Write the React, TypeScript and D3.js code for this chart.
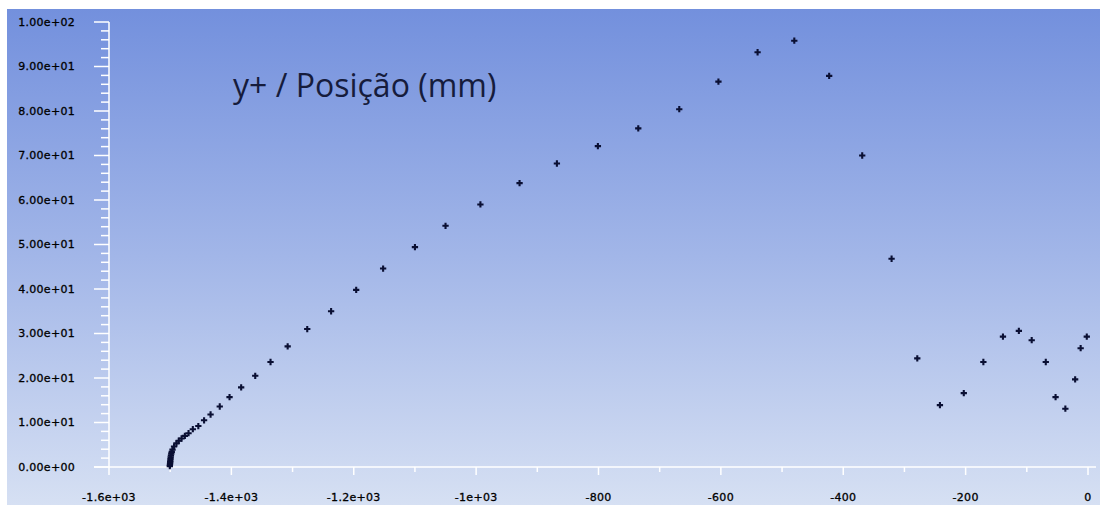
import * as d3 from "d3";
import { useMemo } from "react";

// position (mm) and y+, left to right
const positionMm = [
  -1500.6, -1500.4, -1500.2, -1500.0, -1499.8, -1499.5, -1499.2, -1498.8, -1498.2, -1497.4,
  -1496.2, -1493.7, -1489.8, -1486, -1481.4, -1476, -1470, -1463, -1454, -1444.6,
  -1434, -1419, -1403, -1384, -1361, -1336, -1308, -1276, -1237, -1196,
  -1152, -1100, -1050, -993, -929, -868, -801, -735, -668, -604,
  -540, -480, -423, -369, -321, -279, -242, -203, -171, -139,
  -113, -92, -69, -53, -37, -21, -12, -2,
];
const yPlus = [
  0.2, 0.5, 0.8, 1.1, 1.4, 1.8, 2.2, 2.6, 3.0, 3.4,
  3.9, 4.6, 5.3, 5.9, 6.4, 7.0, 7.6, 8.5, 9.2, 10.5,
  11.8, 13.6, 15.7, 17.9, 20.5, 23.6, 27.1, 31.0, 35.0, 39.8,
  44.6, 49.4, 54.2, 59.0, 63.8, 68.2, 72.1, 76.1, 80.4, 86.6,
  93.2, 95.8, 87.9, 70.0, 46.8, 24.4, 13.9, 16.6, 23.6, 29.3,
  30.6, 28.5, 23.6, 15.7, 13.1, 19.7, 26.7, 29.3,
];

const xTickValues = [-1600, -1400, -1200, -1000, -800, -600, -400, -200, 0];
const xTickLabels = ["-1.6e+03", "-1.4e+03", "-1.2e+03", "-1e+03", "-800", "-600", "-400", "-200", "0"];
const yTickValues = [0, 10, 20, 30, 40, 50, 60, 70, 80, 90, 100];
const yTickLabels = [
  "0.00e+00", "1.00e+01", "2.00e+01", "3.00e+01", "4.00e+01", "5.00e+01",
  "6.00e+01", "7.00e+01", "8.00e+01", "9.00e+01", "1.00e+02",
];

const title = "y+ / Posição (mm)";

const width = 1100;
const height = 507;

export default function App() {
  const x = d3.scaleLinear().domain([-1600, 0]).range([109, 1088]);
  const y = d3.scaleLinear().domain([0, 100]).range([467, 22]);

  const points = useMemo(
    () => positionMm.map((p, i) => ({ p, v: yPlus[i] })),
    [],
  );

  const marker = d3.symbol(d3.symbolCross, 22)() ?? "";
  const xMinor = d3.range(-1500, 0, 200);
  const yMinor = d3.range(0, 100, 2).filter((v) => v % 10 !== 0);

  const labelStyle = {
    fontFamily: "DejaVu Sans, sans-serif",
    fontSize: 11,
    letterSpacing: 0.3,
    fill: "#000",
    stroke: "#000",
    strokeWidth: 0.3,
  };

  return (
    <svg
      width={width}
      height={height}
      style={{ position: "absolute", left: 0, top: 0, display: "block" }}
    >
      <defs>
        <linearGradient id="bg" x1="0" y1="0" x2="0" y2="1">
          <stop offset="0%" stopColor="#7390dd" />
          <stop offset="50%" stopColor="#a2b6e8" />
          <stop offset="100%" stopColor="#d6e0f3" />
        </linearGradient>
      </defs>
      <rect x={0} y={0} width={width} height={height} fill="#fff" />
      <rect x={7} y={9} width={width - 7} height={height - 11} fill="url(#bg)" />

      {/* axes */}
      <g stroke="#fff" strokeWidth={1.5}>
        <line x1={x(-1600)} x2={x(-1600)} y1={y(100)} y2={y(0)} />
        <line x1={x(-1600) - 15} x2={1096} y1={y(0)} y2={y(0)} />
        {yTickValues.map((v) => (
          <line key={"yt" + v} x1={x(-1600) - 15} x2={x(-1600)} y1={y(v)} y2={y(v)} />
        ))}
        {yMinor.map((v) => (
          <line key={"ym" + v} x1={x(-1600) - 8} x2={x(-1600)} y1={y(v)} y2={y(v)} />
        ))}
        {xTickValues.map((v) => (
          <line key={"xt" + v} x1={x(v)} x2={x(v)} y1={y(0)} y2={y(0) + 8} />
        ))}
        {xMinor.map((v) => (
          <line key={"xm" + v} x1={x(v)} x2={x(v)} y1={y(0)} y2={y(0) + 5} />
        ))}
      </g>

      {yTickValues.map((v, i) => (
        <text key={"yl" + v} x={75} y={y(v)} dy="0.35em" textAnchor="end" style={labelStyle}>
          {yTickLabels[i]}
        </text>
      ))}
      {xTickValues.map((v, i) => (
        <text key={"xl" + v} x={x(v)} y={501} textAnchor="middle" style={labelStyle}>
          {xTickLabels[i]}
        </text>
      ))}

      <text
        x={233}
        y={97}
        style={{ fontFamily: "Open Sans, sans-serif", fontSize: 32, fill: "#161c3c" }}
      >
        {title}
      </text>

      <g fill="#0a0f33">
        {points.map((d, i) => (
          <path key={i} d={marker} transform={`translate(${x(d.p)},${y(d.v)})`} />
        ))}
      </g>
    </svg>
  );
}
